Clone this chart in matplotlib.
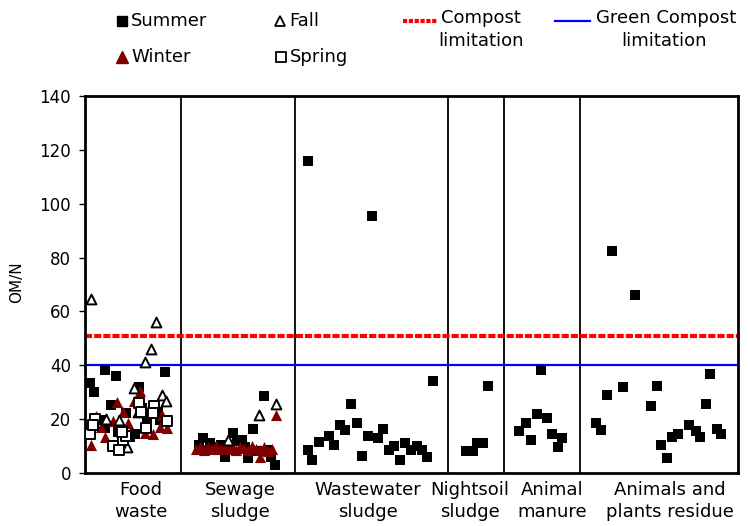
import matplotlib
matplotlib.use("Agg")
import matplotlib.pyplot as plt
from matplotlib.lines import Line2D
from matplotlib import transforms

# ---- data -------------------------------------------------------------
categories = ["Food\nwaste", "Sewage\nsludge", "Wastewater\nsludge",
              "Nightsoil\nsludge", "Animal\nmanure", "Animals and\nplants residue"]
category_edges = [0, 96, 210, 363, 419, 495, 653]
label_x = [56, 155, 283, 385, 467, 585]

compost_limit = 51
green_compost_limit = 40

summer_x = [5, 9.3, 20, 31, 25.7, 41, 54.3, 56.7, 73.3, 80.3, 15, 20, 33.3, 45, 50, 61.7, 75,
            114, 118.3, 125, 131, 136, 140, 145, 148.3, 152, 156.7, 160, 163.3, 167.7, 172,
            179, 183, 186, 190,
            223.3, 287.3, 347.5, 265.7, 255, 260, 271.7, 244.3, 234.3, 223.3, 227.3, 249,
            283.3, 293.3, 298.3, 276.7, 304.3, 309, 320, 325.7, 331.7, 336.7, 315, 342.3,
            380.7, 388.3, 392.3, 398.3, 402.7,
            456, 451.7, 462.3, 441, 434.3, 445.7, 467.3, 477.3, 472.7,
            527.3, 549.7, 625, 571.7, 538, 522, 565.7, 620.7, 511.3, 516, 604, 610.7,
            614.7, 593.3, 586.7, 576, 582.3, 631.7, 636]
summer_y = [33.5, 30.2, 38.2, 36.0, 25.2, 22.4, 32.0, 24.0, 22.8, 37.4, 19.7, 16.6, 15.3, 13.5,
            14.5, 20.3, 19.7,
            10.5, 12.9, 11.0, 9.5, 10.5, 5.8, 10.5, 14.7, 12.0, 12.3, 9.5, 5.4, 16.2, 8.0,
            28.5, 8.5, 6.0, 3.0,
            115.9, 95.4, 34.0, 25.6, 17.8, 16.0, 18.4, 13.7, 11.6, 8.5, 4.8, 10.4,
            13.7, 12.9, 16.2, 6.4, 8.5, 10.0, 11.3, 8.5, 10.0, 8.5, 4.8, 5.8,
            8.2, 8.2, 11.0, 11.0, 32.4,
            38.2, 21.8, 20.5, 18.7, 15.6, 12.3, 14.4, 13.1, 9.8,
            82.5, 66.2, 36.9, 32.4, 31.8, 29.0, 25.0, 25.6, 18.4, 16.0, 17.8, 15.7,
            13.2, 14.5, 13.5, 10.4, 5.4, 16.2, 14.5]

winter_x = [5.7, 32.3, 55, 49, 38.3, 11, 27.7, 43.3, 15.7, 76.7, 81.7, 67.7, 60, 75, 20,
            111, 115, 119, 123, 127, 131, 135, 139, 143, 147, 151, 155, 159, 163, 167,
            171, 175, 179, 183, 187, 191, 175]
winter_y = [10.4, 26.5, 30.6, 26.7, 22.8, 21.2, 19.3, 18.7, 17.2, 21.5, 16.8, 14.4, 14.7,
            17.2, 13.5,
            9.0, 9.5, 8.5, 9.8, 9.0, 10.0, 8.8, 9.5, 9.0, 10.2, 8.7, 9.5, 9.2, 8.5, 10.0,
            9.0, 8.6, 9.8, 8.3, 8.8, 21.5, 5.8]

fall_x = [6, 71, 65.7, 60.3, 49.3, 76.7, 81, 21, 41.7, 53.3, 34.3,
          143.3, 174.3, 191]
fall_y = [64.5, 56.1, 45.9, 41.3, 31.4, 29.0, 26.7, 20.0, 9.8, 22.8, 19.7,
          12.3, 21.5, 25.6]

spring_x = [10, 5, 28.3, 34.3, 37.7, 54.3, 55.7, 69, 67.7, 82.3, 61, 41, 8.3, 36.7]
spring_y = [19.9, 14.5, 10.0, 8.5, 12.3, 26.1, 22.8, 24.9, 22.2, 19.4, 16.6, 13.7, 17.8, 15.3]

# ---- figure -----------------------------------------------------------
W, H = 748, 526
fig = plt.figure(figsize=(W / 100, H / 100), dpi=100)
ax = fig.add_axes([85 / W, 1 - 473 / H, (738 - 85) / W, (473 - 96) / H])

dark_red = "#800000"

ax.axhline(compost_limit, color="#ff0000", lw=3, dashes=(1.7, 0.5), zorder=2)
ax.axhline(green_compost_limit, color="#0000ff", lw=1.6, zorder=2)
for e in category_edges[1:-1]:
    ax.axvline(e, color="black", lw=1.3, zorder=1)

ax.scatter(summer_x, summer_y, marker="s", s=52, c="black", linewidths=0, zorder=3)
ax.scatter(winter_x, winter_y, marker="^", s=64, c=dark_red, linewidths=0, zorder=4)
ax.scatter(fall_x, fall_y, marker="^", s=50, facecolors="white", edgecolors="black",
           linewidths=1.4, zorder=5)
ax.scatter(spring_x, spring_y, marker="s", s=50, facecolors="white", edgecolors="black",
           linewidths=1.4, zorder=5)

ax.set_xlim(category_edges[0], category_edges[-1])
ax.set_ylim(0, 140)
ax.set_xticks([])
ax.set_yticks(range(0, 141, 20))
ax.tick_params(axis="y", direction="out", length=4, width=1, labelsize=12, pad=6)
for sp in ax.spines.values():
    sp.set_linewidth(2)

trans = transforms.blended_transform_factory(ax.transData, fig.transFigure)
for cx, name in zip(label_x, categories):
    ax.text(cx, 1 - 501 / H, name, transform=trans, ha="center", va="center",
            fontsize=13, linespacing=1.25)

fig.text(17 / W, 1 - 282 / H, "OM/N", rotation=90, ha="center", va="center", fontsize=11)

# ---- legend -----------------------------------------------------------
def fx(px):
    return px / W


def fy(py):
    return 1 - py / H


season_keys = [
    (122, 21, dict(marker="s", color="black", markersize=6.5, linestyle="none"), "Summer"),
    (280, 21, dict(marker="^", markerfacecolor="white", markeredgecolor="black",
                   markersize=7, markeredgewidth=1.3, linestyle="none"), "Fall"),
    (122, 57, dict(marker="^", color=dark_red, markersize=8, linestyle="none"), "Winter"),
    (281, 57, dict(marker="s", markerfacecolor="white", markeredgecolor="black",
                   markersize=7, markeredgewidth=1.3, linestyle="none"), "Spring"),
]
for mx, my, style, text in season_keys:
    fig.add_artist(Line2D([fx(mx)], [fy(my)], transform=fig.transFigure, **style))
    fig.text(fx(mx + 9), fy(my), text, ha="left", va="center", fontsize=13)

fig.add_artist(Line2D([fx(403), fx(437)], [fy(21), fy(21)], transform=fig.transFigure,
                      color="#ff0000", lw=3, dashes=(1.0, 0.4)))
fig.text(fx(481), fy(18), "Compost", ha="center", va="center", fontsize=13)
fig.text(fx(481), fy(41), "limitation", ha="center", va="center", fontsize=13)

fig.add_artist(Line2D([fx(555), fx(590)], [fy(21), fy(21)], transform=fig.transFigure,
                      color="#0000ff", lw=1.6))
fig.text(fx(666), fy(18), "Green Compost", ha="center", va="center", fontsize=13)
fig.text(fx(664), fy(41), "limitation", ha="center", va="center", fontsize=13)

fig.savefig("out.png", dpi=100)
